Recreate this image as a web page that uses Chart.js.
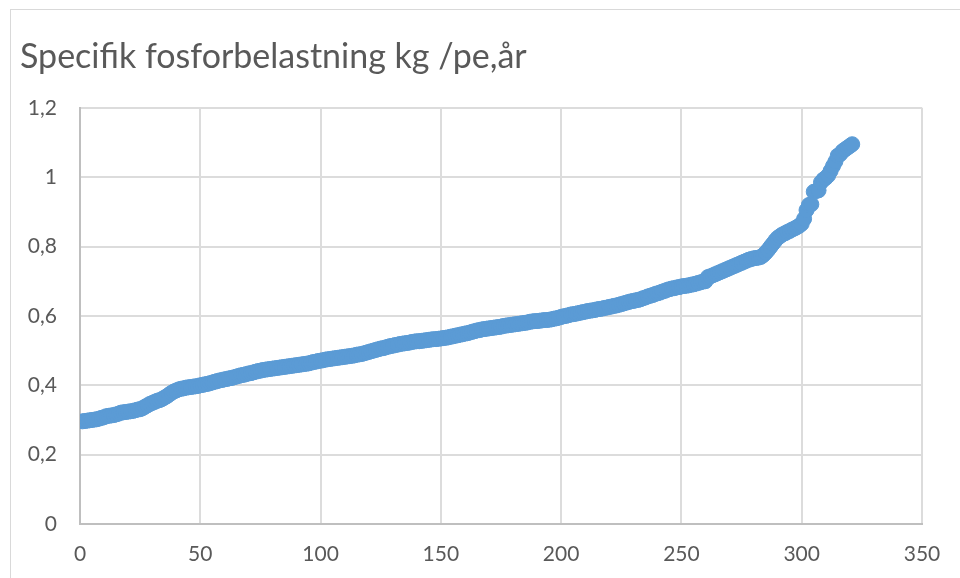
<!DOCTYPE html>
<html>
<head>
<meta charset="utf-8">
<title>Specifik fosforbelastning</title>
<script src="https://cdn.jsdelivr.net/npm/chart.js@4/dist/chart.umd.min.js"></script>
<style>
  html, body { margin: 0; padding: 0; background: #ffffff; }
  #wrap { position: relative; width: 960px; height: 578px; overflow: hidden; }
  #frame { position: absolute; left: 10px; top: 9px; width: 1000px; height: 1000px;
           border-top: 1px solid #d9d9d9; border-left: 1px solid #d9d9d9; box-sizing: border-box; }
  canvas { position: absolute; left: 0; top: 0; }
</style>
</head>
<body>
<div id="wrap">
  <div id="frame"></div>
  <canvas id="chart" width="960" height="578"></canvas>
</div>
<script>
// Specific phosphorus load per plant, sorted ascending (kg per pe and year)
const loadValues = [
  0.296, 0.297, 0.298, 0.299, 0.300, 0.301, 0.302, 0.304, 0.306, 0.308,
  0.311, 0.312, 0.313, 0.314, 0.316, 0.318, 0.321, 0.322, 0.323, 0.324,
  0.325, 0.326, 0.328, 0.330, 0.331, 0.334, 0.338, 0.342, 0.346, 0.349,
  0.352, 0.355, 0.357, 0.360, 0.364, 0.368, 0.373, 0.378, 0.382, 0.385,
  0.388, 0.390, 0.391, 0.393, 0.394, 0.395, 0.396, 0.397, 0.398, 0.400,
  0.401, 0.403, 0.404, 0.406, 0.408, 0.410, 0.412, 0.414, 0.415, 0.417,
  0.418, 0.420, 0.421, 0.423, 0.425, 0.427, 0.429, 0.430, 0.432, 0.434,
  0.435, 0.437, 0.439, 0.441, 0.442, 0.444, 0.445, 0.446, 0.447, 0.448,
  0.449, 0.450, 0.451, 0.452, 0.453, 0.454, 0.455, 0.456, 0.457, 0.458,
  0.459, 0.460, 0.461, 0.462, 0.463, 0.465, 0.467, 0.468, 0.470, 0.471,
  0.472, 0.474, 0.475, 0.476, 0.477, 0.478, 0.479, 0.480, 0.481, 0.482,
  0.483, 0.484, 0.485, 0.486, 0.488, 0.489, 0.490, 0.492, 0.494, 0.496,
  0.498, 0.500, 0.502, 0.504, 0.506, 0.507, 0.509, 0.511, 0.513, 0.514,
  0.516, 0.517, 0.519, 0.520, 0.521, 0.522, 0.523, 0.525, 0.526, 0.527,
  0.527, 0.528, 0.529, 0.530, 0.531, 0.532, 0.533, 0.533, 0.534, 0.535,
  0.536, 0.537, 0.538, 0.540, 0.541, 0.543, 0.544, 0.546, 0.547, 0.549,
  0.550, 0.552, 0.554, 0.556, 0.558, 0.559, 0.561, 0.562, 0.563, 0.564,
  0.565, 0.566, 0.567, 0.568, 0.569, 0.571, 0.572, 0.573, 0.574, 0.575,
  0.576, 0.577, 0.578, 0.579, 0.580, 0.581, 0.583, 0.584, 0.585, 0.585,
  0.586, 0.587, 0.588, 0.588, 0.589, 0.590, 0.592, 0.593, 0.595, 0.597,
  0.599, 0.600, 0.602, 0.604, 0.605, 0.606, 0.608, 0.609, 0.611, 0.612,
  0.614, 0.615, 0.616, 0.617, 0.619, 0.620, 0.621, 0.623, 0.624, 0.626,
  0.627, 0.629, 0.630, 0.632, 0.634, 0.636, 0.638, 0.640, 0.642, 0.643,
  0.645, 0.646, 0.648, 0.651, 0.653, 0.656, 0.658, 0.660, 0.663, 0.665,
  0.667, 0.670, 0.672, 0.675, 0.677, 0.679, 0.680, 0.682, 0.683, 0.685,
  0.686, 0.687, 0.688, 0.690, 0.691, 0.693, 0.695, 0.697, 0.699, 0.700,
  0.712, 0.714, 0.717, 0.720, 0.723, 0.726, 0.729, 0.732, 0.735, 0.738,
  0.741, 0.744, 0.747, 0.750, 0.753, 0.756, 0.759, 0.762, 0.764, 0.766,
  0.767, 0.768, 0.770, 0.775, 0.782, 0.790, 0.799, 0.808, 0.817, 0.825,
  0.830, 0.835, 0.838, 0.842, 0.845, 0.849, 0.852, 0.856, 0.860, 0.866,
  0.880, 0.905, 0.920, 0.922, 0.958, 0.960, 0.962, 0.985, 0.993, 0.998,
  1.005, 1.018, 1.032, 1.045, 1.062, 1.066, 1.075, 1.080, 1.085, 1.090,
  1.095
];

// Rank of each plant along the x axis (1..n)
const rankValues = loadValues.map((_, i) => i + 1);

const xTickLabels = ['0', '50', '100', '150', '200', '250', '300', '350'];
const yTickLabels = ['0', '0,2', '0,4', '0,6', '0,8', '1', '1,2'];

const titleText = 'Specifik fosforbelastning kg /pe,år';

const points = rankValues.map((x, i) => ({ x: x, y: loadValues[i] }));

const markerColor = '#5B9BD5';
const textColor = '#595959';
const gridColor = '#dcdcdc';
const axisColor = '#bfbfbf';
const fontFamily = 'Lato, "Open Sans", "Noto Sans", sans-serif';

new Chart(document.getElementById('chart'), {
  type: 'scatter',
  data: {
    datasets: [{
      data: points,
      backgroundColor: markerColor,
      borderColor: markerColor,
      borderWidth: 1,
      pointRadius: 7.5,
      pointHoverRadius: 7.5
    }]
  },
  options: {
    responsive: false,
    animation: false,
    events: [],
    layout: { padding: { left: 20, right: 38, top: 0, bottom: 0 } },
    plugins: {
      legend: { display: false },
      tooltip: { enabled: false },
      title: {
        display: true,
        text: titleText,
        align: 'start',
        color: textColor,
        font: { family: fontFamily, size: 34, weight: 'normal', lineHeight: 1.2 },
        padding: { top: 37, bottom: 30 }
      }
    },
    scales: {
      x: {
        type: 'linear',
        min: 0,
        max: 350,
        afterFit: (scale) => { scale.height = 54; },
        ticks: {
          stepSize: 50,
          color: textColor,
          padding: 18,
          maxRotation: 0,
          font: { family: fontFamily, size: 21 },
          callback: (value, index) => xTickLabels[index]
        },
        grid: { color: gridColor, lineWidth: 2, drawTicks: false },
        border: { color: axisColor, width: 2 }
      },
      y: {
        type: 'linear',
        min: 0,
        max: 1.2,
        afterFit: (scale) => { scale.width = 60; },
        ticks: {
          stepSize: 0.2,
          color: textColor,
          padding: 23,
          font: { family: fontFamily, size: 21 },
          callback: (value, index) => yTickLabels[index]
        },
        grid: { color: gridColor, lineWidth: 2, drawTicks: false },
        border: { color: axisColor, width: 2 }
      }
    }
  }
});
</script>
</body>
</html>
